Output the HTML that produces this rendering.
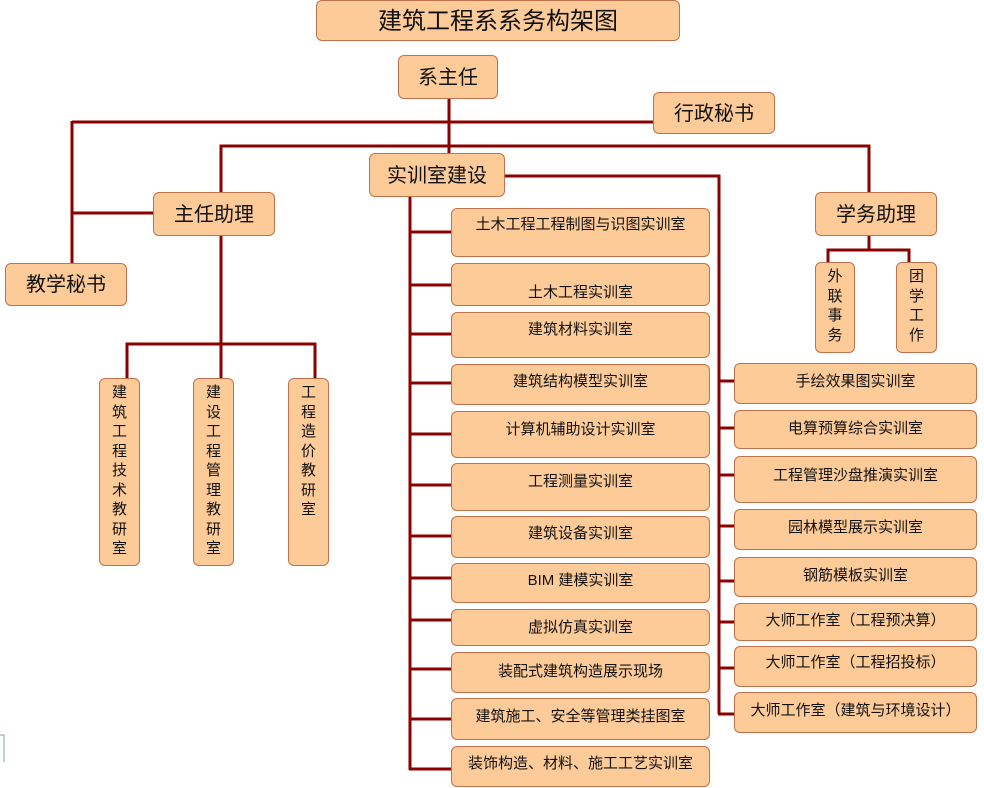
<!DOCTYPE html>
<html><head><meta charset="utf-8"><style>
html,body{margin:0;padding:0;background:#fff;}
body{width:984px;height:788px;position:relative;overflow:hidden;font-family:"Liberation Sans","Noto Sans CJK SC","WenQuanYi Zen Hei",sans-serif;color:#111;}
.b{position:absolute;box-sizing:border-box;background:#fdcb98;border:1.5px solid #c0704a;border-radius:6px;}
.b span{position:absolute;left:0;right:0;text-align:center;line-height:20px;white-space:nowrap;}
.v{font-size:15px;line-height:19.5px;text-align:center;padding-top:4px;}
svg{position:absolute;left:0;top:0;}
</style></head><body>
<svg width="984" height="788">
<g stroke="#8b0000" stroke-width="3" fill="none">
<line x1="449" y1="98" x2="449" y2="154"/>
<line x1="72" y1="122" x2="653" y2="122"/>
<line x1="72" y1="121" x2="72" y2="263"/>
<line x1="72" y1="213" x2="153" y2="213"/>
<polyline points="221,192 221,146 869,146 869,192"/>
<line x1="221" y1="235" x2="221" y2="378"/>
<polyline points="127,378 127,344 315,344 315,378"/>
<line x1="869" y1="235" x2="869" y2="250"/>
<polyline points="828,262 828,250 909,250 909,262"/>
<line x1="410" y1="196" x2="410" y2="770"/>
<polyline points="504,176 719,176 719,714"/>
</g>
<g stroke="#8b0000" stroke-width="3">
<line x1="409" y1="232" x2="451" y2="232"/><line x1="409" y1="285" x2="451" y2="285"/>
<line x1="409" y1="334" x2="451" y2="334"/><line x1="409" y1="383" x2="451" y2="383"/>
<line x1="409" y1="434" x2="451" y2="434"/><line x1="409" y1="485" x2="451" y2="485"/>
<line x1="409" y1="536" x2="451" y2="536"/><line x1="409" y1="578" x2="451" y2="578"/>
<line x1="409" y1="620" x2="451" y2="620"/><line x1="409" y1="669" x2="451" y2="669"/>
<line x1="409" y1="719" x2="451" y2="719"/><line x1="409" y1="769" x2="451" y2="769"/>
<line x1="718" y1="381" x2="734" y2="381"/><line x1="718" y1="428" x2="734" y2="428"/>
<line x1="718" y1="475" x2="734" y2="475"/><line x1="718" y1="526" x2="734" y2="526"/>
<line x1="718" y1="581" x2="734" y2="581"/><line x1="718" y1="622" x2="734" y2="622"/>
<line x1="718" y1="668" x2="734" y2="668"/><line x1="718" y1="714" x2="734" y2="714"/>
</g>
<polyline points="0,735 4,735 4,762" stroke="#7fa88a" stroke-width="1" fill="none"/>
</svg>

<div class="b" style="left:316px;top:0;width:364px;height:41px;"><span style="top:9px;font-size:24px;line-height:24px;">建筑工程系系务构架图</span></div>
<div class="b" style="left:398px;top:55px;width:100px;height:44px;"><span style="top:11px;font-size:20px;line-height:22px;">系主任</span></div>
<div class="b" style="left:653px;top:92px;width:122px;height:42px;"><span style="top:10px;font-size:20px;line-height:22px;">行政秘书</span></div>
<div class="b" style="left:369px;top:153px;width:136px;height:44px;"><span style="top:11px;font-size:20px;line-height:22px;">实训室建设</span></div>
<div class="b" style="left:153px;top:192px;width:122px;height:44px;"><span style="top:11px;font-size:20px;line-height:22px;">主任助理</span></div>
<div class="b" style="left:815px;top:192px;width:122px;height:44px;"><span style="top:11px;font-size:20px;line-height:22px;">学务助理</span></div>
<div class="b" style="left:5px;top:263px;width:122px;height:43px;"><span style="top:10px;font-size:20px;line-height:22px;">教学秘书</span></div>

<div class="b v" style="left:815px;top:262px;width:40px;height:91px;">外<br>联<br>事<br>务</div>
<div class="b v" style="left:896px;top:262px;width:41px;height:91px;">团<br>学<br>工<br>作</div>
<div class="b v" style="left:99px;top:378px;width:41px;height:188px;">建<br>筑<br>工<br>程<br>技<br>术<br>教<br>研<br>室</div>
<div class="b v" style="left:193px;top:378px;width:41px;height:188px;">建<br>设<br>工<br>程<br>管<br>理<br>教<br>研<br>室</div>
<div class="b v" style="left:288px;top:378px;width:41px;height:188px;">工<br>程<br>造<br>价<br>教<br>研<br>室</div>

<div style="font-size:15px;">
<div class="b" style="left:451px;top:208px;width:259px;height:49px;"><span style="top:6px;">土木工程工程制图与识图实训室</span></div>
<div class="b" style="left:451px;top:263px;width:259px;height:43px;"><span style="top:19px;">土木工程实训室</span></div>
<div class="b" style="left:451px;top:312px;width:259px;height:46px;"><span style="top:7px;">建筑材料实训室</span></div>
<div class="b" style="left:451px;top:364px;width:259px;height:41px;"><span style="top:7px;">建筑结构模型实训室</span></div>
<div class="b" style="left:451px;top:411px;width:259px;height:47px;"><span style="top:8px;">计算机辅助设计实训室</span></div>
<div class="b" style="left:451px;top:463px;width:259px;height:48px;"><span style="top:8px;">工程测量实训室</span></div>
<div class="b" style="left:451px;top:516px;width:259px;height:42px;"><span style="top:7px;">建筑设备实训室</span></div>
<div class="b" style="left:451px;top:563px;width:259px;height:40px;"><span style="top:7px;">BIM 建模实训室</span></div>
<div class="b" style="left:451px;top:609px;width:259px;height:37px;"><span style="top:8px;">虚拟仿真实训室</span></div>
<div class="b" style="left:451px;top:652px;width:259px;height:41px;"><span style="top:9px;">装配式建筑构造展示现场</span></div>
<div class="b" style="left:451px;top:698px;width:259px;height:42px;"><span style="top:8px;">建筑施工、安全等管理类挂图室</span></div>
<div class="b" style="left:451px;top:746px;width:259px;height:41px;"><span style="top:7px;">装饰构造、材料、施工工艺实训室</span></div>

<div class="b" style="left:734px;top:363px;width:243px;height:41px;"><span style="top:8px;">手绘效果图实训室</span></div>
<div class="b" style="left:734px;top:410px;width:243px;height:39px;"><span style="top:8px;">电算预算综合实训室</span></div>
<div class="b" style="left:734px;top:456px;width:243px;height:47px;"><span style="top:9px;">工程管理沙盘推演实训室</span></div>
<div class="b" style="left:734px;top:509px;width:243px;height:41px;"><span style="top:8px;">园林模型展示实训室</span></div>
<div class="b" style="left:734px;top:557px;width:243px;height:40px;"><span style="top:8px;">钢筋模板实训室</span></div>
<div class="b" style="left:734px;top:603px;width:243px;height:38px;"><span style="top:7px;">大师工作室（工程预决算）</span></div>
<div class="b" style="left:734px;top:646px;width:243px;height:41px;"><span style="top:6px;">大师工作室（工程招投标）</span></div>
<div class="b" style="left:734px;top:692px;width:243px;height:41px;"><span style="top:8px;">大师工作室（建筑与环境设计）</span></div>
</div>
</body></html>
